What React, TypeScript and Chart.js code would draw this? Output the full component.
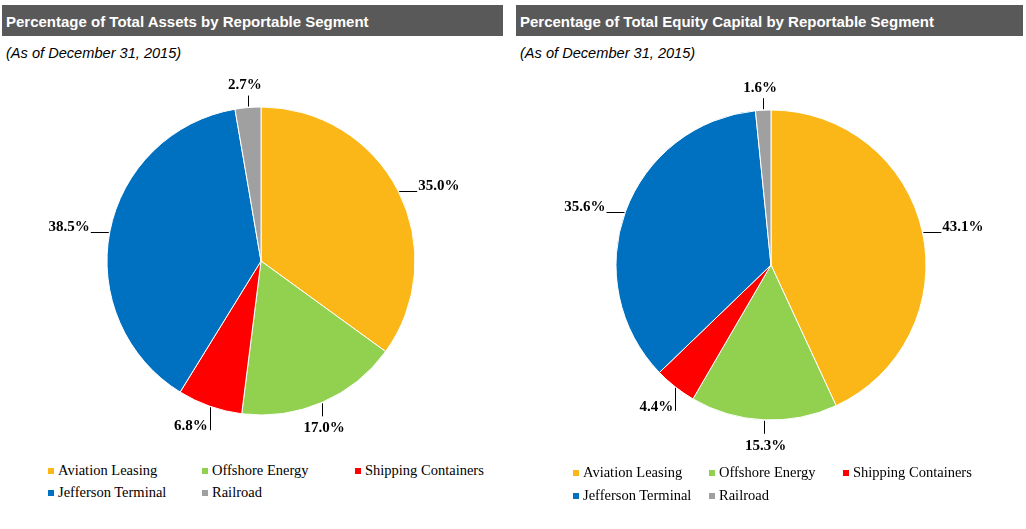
import React, { useEffect, useRef } from "react";
import { Chart, registerables } from "chart.js";

Chart.register(...registerables);

const segments = [
  "Aviation Leasing",
  "Offshore Energy",
  "Shipping Containers",
  "Jefferson Terminal",
  "Railroad",
];
const assetsShare = [35.0, 17.0, 6.8, 38.5, 2.7];
const equityShare = [43.1, 15.3, 4.4, 35.6, 1.6];
const segmentColors = ["#FBB718", "#92D050", "#FF0000", "#0070C0", "#A0A0A0"];
const assetsTitle = "Percentage of Total Assets by Reportable Segment";
const equityTitle = "Percentage of Total Equity Capital by Reportable Segment";
const asOfText = "(As of December 31, 2015)";

const LABEL_FONT = "bold 15px 'Liberation Serif', 'Times New Roman', serif";

const outsideLabels = {
  id: "outsideLabels",
  afterDatasetsDraw(chart: any) {
    const ctx = chart.ctx as CanvasRenderingContext2D;
    const meta = chart.getDatasetMeta(0);
    const values = chart.data.datasets[0].data as number[];
    ctx.save();
    ctx.strokeStyle = "#000";
    ctx.fillStyle = "#000";
    ctx.lineWidth = 1;
    ctx.font = LABEL_FONT;
    meta.data.forEach((el: any, i: number) => {
      const p = el.getProps(["x", "y", "startAngle", "endAngle", "outerRadius"], true);
      const mid = (p.startAngle + p.endAngle) / 2;
      const dx = Math.cos(mid);
      const dy = Math.sin(mid);
      const ex = p.x + dx * p.outerRadius;
      const ey = p.y + dy * p.outerRadius;
      const text = values[i].toFixed(1) + "%";
      const line = (x1: number, y1: number, x2: number, y2: number) => {
        ctx.beginPath();
        ctx.moveTo(x1, y1);
        ctx.lineTo(x2, y2);
        ctx.stroke();
      };
      if (Math.abs(dx) > 0.7) {
        const dir = dx > 0 ? 1 : -1;
        const y = Math.round(ey) + 0.5;
        const x2 = ex + dir * 19;
        line(ex + dir * 1, y, x2, y);
        ctx.textAlign = dir > 0 ? "left" : "right";
        ctx.textBaseline = "middle";
        ctx.fillText(text, x2 + dir * 1, y - 5);
      } else if (dy < 0) {
        const x = Math.round(ex) + 0.5;
        line(x, ey - 1, x, ey - 12);
        ctx.textAlign = "center";
        ctx.textBaseline = "middle";
        ctx.fillText(text, ex - 3, ey - 22);
      } else if (dx < -0.25) {
        const x = Math.round(ex) + 0.5;
        line(x, ey + 1, x, ey + 24);
        ctx.textAlign = "right";
        ctx.textBaseline = "middle";
        ctx.fillText(text, ex - 2, ey + 20);
      } else {
        const x = Math.round(ex) + 0.5;
        line(x, ey + 1, x, ey + 14);
        ctx.textAlign = "center";
        ctx.textBaseline = "middle";
        ctx.fillText(text, ex + 2, ey + 26);
      }
    });
    ctx.restore();
  },
};

function PieCanvas({ values, width, height, radius }: { values: number[]; width: number; height: number; radius: number }) {
  const ref = useRef<HTMLCanvasElement | null>(null);
  useEffect(() => {
    if (!ref.current) return;
    const chart = new Chart(ref.current, {
      type: "pie",
      data: {
        labels: segments,
        datasets: [
          {
            data: values,
            backgroundColor: segmentColors,
            borderColor: "#FFFFFF",
            borderWidth: 1,
            radius: radius,
          } as any,
        ],
      },
      options: {
        responsive: false,
        animation: false,
        devicePixelRatio: 1,
        layout: { padding: 0 },
        plugins: {
          legend: { display: false },
          tooltip: { enabled: false },
          title: { display: false },
        },
      },
      plugins: [outsideLabels],
    });
    return () => chart.destroy();
  }, [values, width, height, radius]);
  return <canvas ref={ref} width={width} height={height} style={{ width, height, display: "block" }} />;
}

function Legend({ left, top, cols, rowGap }: { left: number; top: number; cols: number[]; rowGap: number }) {
  return (
    <div style={{ position: "absolute", left, top }}>
      {segments.map((s, i) => {
        const col = i % 3;
        const row = Math.floor(i / 3);
        return (
          <div
            key={s}
            style={{
              position: "absolute",
              left: cols[col],
              top: row * rowGap,
              whiteSpace: "nowrap",
              font: "14.5px 'Liberation Serif', 'Times New Roman', serif",
              color: "#000",
              lineHeight: "18px",
              display: "flex",
              alignItems: "center",
            }}
          >
            <span
              style={{
                display: "inline-block",
                width: 6,
                height: 6,
                background: segmentColors[i],
                marginRight: 4,
                marginTop: 2,
              }}
            />
            <span>{s}</span>
          </div>
        );
      })}
    </div>
  );
}

function Header({ left, width, title }: { left: number; width: number; title: string }) {
  return (
    <>
      <div
        style={{
          position: "absolute",
          left,
          top: 5,
          width,
          height: 31,
          background: "#595959",
          color: "#FFFFFF",
          font: "bold 15px 'Liberation Sans', Arial, sans-serif",
          lineHeight: "31px",
          paddingLeft: 4,
          boxSizing: "border-box",
          paddingTop: 1,
          whiteSpace: "nowrap",
        }}
      >
        {title}
      </div>
      <div
        style={{
          position: "absolute",
          left: left + 4,
          top: 44,
          font: "italic 14.6px 'Liberation Sans', Arial, sans-serif",
          color: "#000",
          lineHeight: "18px",
          whiteSpace: "nowrap",
        }}
      >
        {asOfText}
      </div>
    </>
  );
}

export default function App() {
  return (
    <div
      style={{
        position: "absolute",
        left: 0,
        top: 0,
        width: 1026,
        height: 529,
        background: "#FFFFFF",
        overflow: "hidden",
      }}
    >
      <Header left={2} width={501} title={assetsTitle} />
      <Header left={516} width={507} title={equityTitle} />
      <div style={{ position: "absolute", left: 0, top: 70 }}>
        <PieCanvas values={assetsShare} width={522} height={382} radius={154} />
      </div>
      <div style={{ position: "absolute", left: 516, top: 70 }}>
        <PieCanvas values={equityShare} width={510} height={390} radius={155} />
      </div>
      <Legend left={48} top={461} cols={[0, 154, 307]} rowGap={22} />
      <Legend left={573} top={463} cols={[0, 136, 270]} rowGap={23} />
    </div>
  );
}
